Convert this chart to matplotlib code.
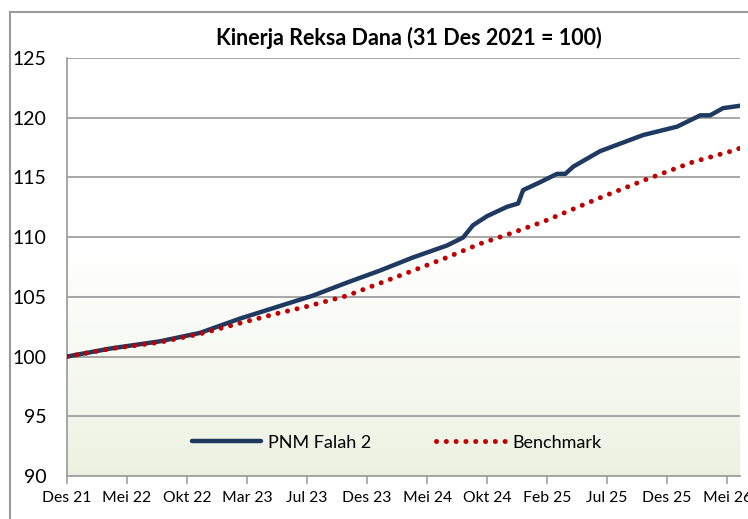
import matplotlib
matplotlib.use("Agg")
import matplotlib.pyplot as plt
import matplotlib.dates as mdates
from matplotlib.lines import Line2D
import numpy as np
import pandas as pd

plt.rcParams['font.family'] = ['Lato', 'DejaVu Sans']

# data (index, 31 Des 2021 = 100)
fund_dates = ["2021-12-31", "2022-04-14", "2022-08-13", "2022-11-17", "2023-02-22",
              "2023-06-30", "2023-08-17", "2023-11-08", "2024-01-26", "2024-04-15",
              "2024-07-06", "2024-08-14", "2024-09-07", "2024-10-11", "2024-11-28",
              "2024-12-25", "2025-01-06", "2025-02-16", "2025-03-29", "2025-04-18",
              "2025-05-07", "2025-07-11", "2025-10-23", "2026-01-13", "2026-03-10",
              "2026-04-03", "2026-05-04", "2026-06-14"]
fund_values = [100.0, 100.67, 101.28, 101.98, 103.18,
               104.58, 105.1, 106.2, 107.2, 108.3,
               109.3, 109.97, 111.0, 111.76, 112.54,
               112.82, 113.94, 114.6, 115.3, 115.3,
               115.9, 117.2, 118.55, 119.25, 120.2,
               120.2, 120.8, 121.0]

bench_dates = ["2021-12-31", "2022-04-14", "2022-08-13", "2022-11-17", "2023-02-22",
               "2023-05-22", "2023-08-03", "2023-11-08", "2024-04-15", "2024-07-06",
               "2024-09-24", "2024-11-28", "2025-02-24", "2025-05-24", "2025-07-11",
               "2025-10-28", "2026-02-21", "2026-05-24", "2026-06-14"]
bench_values = [100.0, 100.65, 101.2, 101.9, 102.8,
                103.6, 104.2, 105.1, 107.2, 108.3,
                109.45, 110.2, 111.3, 112.6, 113.3,
                114.8, 116.3, 117.2, 117.45]

tick_labels = ["Des 21", "Mei 22", "Okt 22", "Mar 23", "Jul 23", "Des 23",
               "Mei 24", "Okt 24", "Feb 25", "Jul 25", "Des 25", "Mei 26"]

fund_x = pd.to_datetime(fund_dates)
bench_x = pd.to_datetime(bench_dates)
tick_x = pd.date_range("2021-12-31", periods=len(tick_labels), freq="145D")

fig = plt.figure(figsize=(7.48, 5.19), dpi=100)
ax = fig.add_axes([67 / 748, 1 - 476 / 519, 673 / 748, 418 / 519])

x0 = mdates.date2num(pd.Timestamp("2021-12-31"))
x1 = mdates.date2num(pd.Timestamp("2026-06-14"))
ax.set_xlim(x0, x1)
ax.set_ylim(90, 125)

# background gradient: white in the upper half, pale green at the bottom
grad = np.linspace(0, 1, 256).reshape(-1, 1)
grad = np.clip(grad / 0.55, 0, 1) ** 0.8
top = np.array([1.0, 1.0, 1.0])
bottom = np.array([0.925, 0.945, 0.875])
img = bottom + (top - bottom) * grad[..., None]
ax.imshow(img, extent=[x0, x1, 90, 125], origin="lower", aspect="auto", zorder=0)

ax.set_yticks(range(90, 126, 5))
ax.grid(axis="y", color="#a0a0a0", linewidth=1.3, zorder=1)
ax.set_axisbelow(True)

ax.plot(fund_x, fund_values, color="#1f3a60", linewidth=3.2, label="PNM Falah 2",
        solid_capstyle="round", solid_joinstyle="round", zorder=3)
ax.plot(bench_x, bench_values, color="#c00000", linewidth=3.6, label="Benchmark",
        linestyle=(0, (0.01, 1.95)), dash_capstyle="round", zorder=4)

ax.set_xticks(tick_x)
ax.set_xticklabels(tick_labels, fontsize=11.3)
ax.tick_params(axis="x", length=6, width=1.2, color="#a0a0a0", pad=5)
ax.tick_params(axis="y", length=0, labelsize=14, pad=15)

for side in ["top", "right"]:
    ax.spines[side].set_visible(False)
for side in ["left", "bottom"]:
    ax.spines[side].set_color("#a0a0a0")
    ax.spines[side].set_linewidth(1.3)

leg = ax.legend(loc="center", bbox_to_anchor=(0.49, 0.08), ncol=2, frameon=False,
                fontsize=13, handlelength=3.8, handletextpad=0.4, columnspacing=3.6)

fig.text(409 / 748, 1 - 38 / 519, "Kinerja Reksa Dana (31 Des 2021 = 100)",
         ha="center", va="center", fontsize=15.5, fontweight="bold")

# outer chart frame
fig.add_artist(Line2D([10 / 748, 10 / 748], [0, 1 - 12 / 519], color="#9a9a9a", linewidth=1.5,
                      transform=fig.transFigure))
fig.add_artist(Line2D([10 / 748, 1], [1 - 12 / 519, 1 - 12 / 519], color="#9a9a9a", linewidth=1.5,
                      transform=fig.transFigure))

fig.savefig("out.png", dpi=100)
